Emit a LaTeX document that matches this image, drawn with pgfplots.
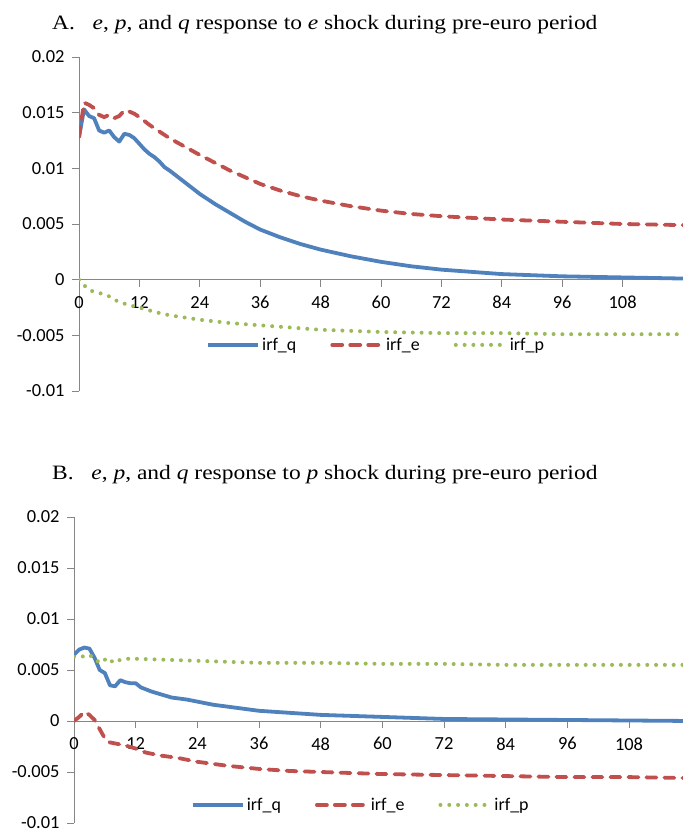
\documentclass[border=0pt]{standalone}
\usepackage{fontspec}
\setmainfont{Carlito}
\newfontfamily\tnr{Liberation Serif}
\usepackage{pgfplots}
\pgfplotsset{compat=1.18}
\definecolor{qblue}{HTML}{4F81BD}
\definecolor{ered}{HTML}{C0504D}
\definecolor{pgreen}{HTML}{9BBB59}
\definecolor{axgray}{HTML}{868686}

\pgfplotsset{
  irf/.style={
    scale only axis,
    xmin=0, ymin=-0.01, ymax=0.02,
    axis y line*=left, axis x line*=middle,
    axis line style={draw=axgray, line width=0.9bp, -},
    hide obscured x ticks=false,
    scaled y ticks=false,
    xtick={0,12,24,36,48,60,72,84,96,108},
    xticklabels={0,12,24,36,48,60,72,84,96,108},
    ytick={-0.01,-0.005,0,0.005,0.01,0.015,0.02},
    yticklabels={-0.01,-0.005,0,0.005,0.01,0.015,0.02},
    tick align=outside,
    tick style={draw=axgray, line width=0.9bp},
    major tick length=7bp,
    ticklabel style={font=\fontsize{18.5}{20}\selectfont, text=black},
    xticklabel style={yshift=-6bp},
    yticklabel style={xshift=-4bp},
    legend columns=-1,
    legend style={draw=none, fill=none, font=\fontsize{18}{20}\selectfont,
      /tikz/every even column/.append style={column sep=32bp}},
    legend image code/.code={\draw[#1] (0bp,0bp) -- (50bp,0bp);},
  },
  qline/.style={color=qblue, line width=3.8bp, line join=round},
  eline/.style={color=ered, line width=3.8bp, dash pattern=on 10bp off 8bp, line cap=round},
  pline/.style={color=pgreen, line width=4bp, dash pattern=on 0bp off 8.8bp, line cap=round},
}

\begin{document}
\begin{tikzpicture}[x=1bp, y=1bp]
\useasboundingbox (0bp,0bp) rectangle (683bp,829bp);

\node[anchor=base west, inner sep=0pt, xscale=1.15, font=\tnr\fontsize{20.5}{22}\selectfont] at (52bp,799bp)
  {A.\ \ \ \textit{e}, \textit{p}, and \textit{q} response to \textit{e} shock during pre-euro period};
\node[anchor=base west, inner sep=0pt, xscale=1.15, font=\tnr\fontsize{20.5}{22}\selectfont] at (52bp,349bp)
  {B.\ \ \ \textit{e}, \textit{p}, and \textit{q} response to \textit{p} shock during pre-euro period};

% Panel A
\begin{axis}[irf, at={(79bp,438bp)}, anchor=south west,
  width=604bp, height=334bp, xmax=120,
  legend style={at={(0.492,0.138)}, anchor=center}]
\addplot[qline] coordinates {
(0,0.0128)(1,0.0153)(2,0.0147)(3,0.0145)(4,0.0134)(5,0.0132)(6,0.0134)(7,0.0128)
(8,0.0124)(9,0.0131)(10,0.0130)(11,0.0127)(12,0.0122)(13,0.0117)(14,0.0113)(15,0.0110)
(16,0.0106)(17,0.0101)(18,0.0098)(20,0.0091)(22,0.0084)(24,0.0077)(27,0.0068)(30,0.0060)
(33,0.0052)(36,0.0045)(40,0.0038)(44,0.0032)(48,0.0027)(54,0.0021)(60,0.0016)(66,0.0012)
(72,0.0009)(78,0.0007)(84,0.0005)(96,0.0003)(108,0.0002)(120,0.0001)};
\addlegendentry{irf\_q}
\addplot[eline] coordinates {
(0,0.0128)(1,0.0159)(2,0.0157)(3,0.0154)(4,0.0148)(5,0.0146)(6,0.0148)(7,0.0145)
(8,0.0147)(9,0.0152)(10,0.0151)(11,0.0149)(12,0.0146)(14,0.0139)(16,0.0133)(18,0.0127)
(20,0.0122)(22,0.0117)(24,0.0112)(27,0.0105)(30,0.0098)(33,0.0092)(36,0.0086)(40,0.0080)
(44,0.0075)(48,0.0071)(54,0.0066)(60,0.0062)(66,0.0059)(72,0.0057)(84,0.0054)(96,0.0052)
(108,0.0050)(120,0.0049)};
\addlegendentry{irf\_e}
\addplot[pline] coordinates {
(0,0)(1,-0.0005)(2,-0.0009)(3,-0.0011)(4,-0.0012)(5,-0.0013)(6,-0.0015)(7,-0.0018)
(8,-0.0020)(10,-0.0023)(12,-0.0025)(15,-0.0029)(18,-0.0032)(21,-0.0034)(24,-0.0036)
(30,-0.0039)(36,-0.0041)(42,-0.0043)(48,-0.0045)(60,-0.0047)(72,-0.0048)(84,-0.0048)
(96,-0.0049)(108,-0.0049)(120,-0.0049)};
\addlegendentry{irf\_p}
\end{axis}

% Panel B
\begin{axis}[irf, at={(74bp,6bp)}, anchor=south west,
  width=609bp, height=306bp, xmax=118.5,
  legend style={at={(0.471,0.059)}, anchor=center}]
\addplot[qline] coordinates {
(0,0.0065)(1,0.0070)(2,0.0072)(3,0.0071)(4,0.0062)(5,0.0050)(6,0.0047)(7,0.0035)
(8,0.0034)(9,0.0040)(10,0.0038)(11,0.0037)(12,0.0037)(13,0.0033)(14,0.0031)(15,0.0029)
(17,0.0026)(19,0.0023)(22,0.0021)(24,0.0019)(27,0.0016)(30,0.0014)(36,0.0010)(42,0.0008)
(48,0.0006)(60,0.0004)(72,0.0002)(84,0.00015)(96,0.0001)(108,0.00005)(120,0.0)};
\addlegendentry{irf\_q}
\addplot[eline] coordinates {
(0,0)(1,0.0004)(2,0.0009)(3,0.0006)(4,0.0001)(5,-0.0008)(6,-0.0017)(7,-0.0021)
(8,-0.0022)(9,-0.0023)(10,-0.0024)(12,-0.0027)(14,-0.0031)(17,-0.0034)(20,-0.0036)
(22,-0.0038)(24,-0.0040)(27,-0.0042)(30,-0.0044)(36,-0.0047)(42,-0.0049)(48,-0.0050)
(60,-0.0052)(72,-0.0053)(84,-0.0054)(96,-0.0055)(108,-0.0055)(120,-0.0056)};
\addlegendentry{irf\_e}
\addplot[pline] coordinates {
(0,0.0063)(1.5,0.0063)(3,0.0065)(4.4,0.0059)(5.4,0.0057)(6.4,0.0062)(7.8,0.0057)
(9,0.0060)(10,0.0061)(12,0.0061)(18,0.0060)(24,0.0059)(36,0.0057)(48,0.0057)
(60,0.0056)(72,0.0056)(84,0.0055)(96,0.0055)(108,0.0055)(120,0.0055)};
\addlegendentry{irf\_p}
\end{axis}
\end{tikzpicture}
\end{document}
